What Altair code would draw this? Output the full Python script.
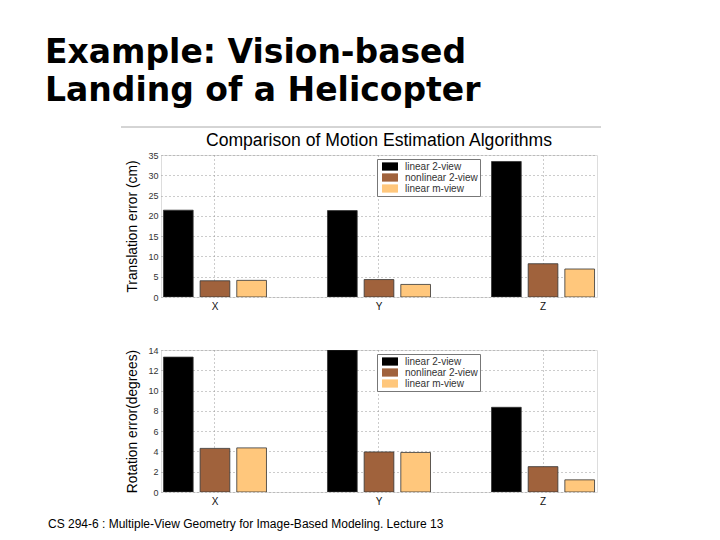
import altair as alt
import pandas as pd

# ---------------- data ----------------
groups = ["X", "Y", "Z"]
methods = ["linear 2-view", "nonlinear 2-view", "linear m-view"]
method_colors = ["#000000", "#a0623c", "#ffc77c"]

trans_linear2 = [21.4, 21.3, 33.4]
trans_nonlinear2 = [4.0, 4.3, 8.2]
trans_linearm = [4.1, 3.1, 6.9]

rot_linear2 = [13.3, 14.0, 8.35]
rot_nonlinear2 = [4.3, 3.95, 2.5]
rot_linearm = [4.35, 3.9, 1.2]

trans_ticks = [0, 5, 10, 15, 20, 25, 30, 35]
rot_ticks = [0, 2, 4, 6, 8, 10, 12, 14]

slide_title_1 = "Example: Vision-based"
slide_title_2 = "Landing of a Helicopter"
chart_title = "Comparison of Motion Estimation Algorithms"
footer = "CS 294-6 : Multiple-View Geometry for Image-Based Modeling. Lecture 13"
trans_label = "Translation error (cm)"
rot_label = "Rotation error(degrees)"

W, H = 436, 142
FONT = "Liberation Sans"


def make_df(a, b, c):
    rows = []
    for vals, m in zip([a, b, c], methods):
        for g, v in zip(groups, vals):
            rows.append({"axis": g, "method": m, "value": v})
    return pd.DataFrame(rows)


def panel(df, ytitle, ticks, ymax, extra_layers):
    bars = alt.Chart(df).mark_bar(stroke="#333333", strokeWidth=0.8, clip=True).encode(
        x=alt.X(
            "axis:N",
            sort=groups,
            scale=alt.Scale(paddingInner=0.372, paddingOuter=0.015),
            axis=alt.Axis(
                title=None, labelAngle=0, labelFontSize=10, labelFont=FONT,
                labelColor="#111111", labelPadding=4, ticks=False, domain=False,
                grid=True, gridDash=[1, 3], gridColor="#999999", bandPosition=0.5,
            ),
        ),
        xOffset=alt.XOffset(
            "method:N", sort=methods,
            scale=alt.Scale(paddingInner=0.19, paddingOuter=0),
        ),
        y=alt.Y(
            "value:Q",
            scale=alt.Scale(domain=[0, ymax], nice=False, zero=True),
            axis=alt.Axis(
                values=ticks, title=ytitle, labelFontSize=9, labelFont=FONT,
                labelColor="#333333", labelPadding=3, ticks=False, domain=False,
                grid=True, gridDash=[1, 3], gridColor="#999999",
                titleFont=FONT, titleFontSize=13.8, titleFontWeight="normal",
                titleColor="#000000", titleX=-29, titleY=H / 2,
                titleAlign="center", titleBaseline="middle",
            ),
        ),
        color=alt.Color(
            "method:N", sort=methods,
            scale=alt.Scale(domain=methods, range=method_colors),
            legend=alt.Legend(
                title=None, orient="none", legendX=216, legendY=4,
                fillColor="white", strokeColor="#777777", padding=2,
                labelFontSize=10, labelFont=FONT, labelColor="#333333",
                symbolType="M-1.45,-0.75H1.45V0.75H-1.45Z", symbolSize=121,
                symbolStrokeWidth=0, symbolOffset=5.5, labelOffset=9.5,
                rowPadding=0, cornerRadius=0,
            ),
        ),
    )
    return alt.layer(bars, *extra_layers).properties(width=W, height=H)


def text_layer(txt, x, y, size, weight="normal", font=FONT, align="left", baseline="alphabetic"):
    return alt.Chart(pd.DataFrame({"t": [txt]})).mark_text(
        font=font, fontSize=size, fontWeight=weight, align=align,
        baseline=baseline, color="#000000",
    ).encode(text="t:N", x=alt.value(x), y=alt.value(y))


rule = alt.Chart(pd.DataFrame({"r": [0]})).mark_rule(color="#aaaaaa", strokeWidth=1).encode(
    x=alt.value(-40), x2=alt.value(440), y=alt.value(-28)
)

top_extra = [
    rule,
    text_layer(slide_title_1, -116, -92, 33, "bold", "DejaVu Sans"),
    text_layer(slide_title_2, -116, -54, 33, "bold", "DejaVu Sans"),
    text_layer(chart_title, W / 2, -14, 17.6, align="center", baseline="middle"),
]
bottom_extra = [
    text_layer(footer, -113, 174, 12, baseline="middle"),
]

top = panel(make_df(trans_linear2, trans_nonlinear2, trans_linearm), trans_label, trans_ticks, 35, top_extra)
bottom = panel(make_df(rot_linear2, rot_nonlinear2, rot_linearm), rot_label, rot_ticks, 14, bottom_extra)

chart = alt.vconcat(top, bottom, spacing=53, bounds="flush").resolve_legend(
    color="independent"
).resolve_scale(color="independent").properties(
    padding={"left": 36, "top": 28, "right": 10, "bottom": 5}
).configure_view(stroke="#777777", strokeWidth=1).configure(background="white")

chart.save("out.html", embed_options={"renderer": "svg", "actions": False})
